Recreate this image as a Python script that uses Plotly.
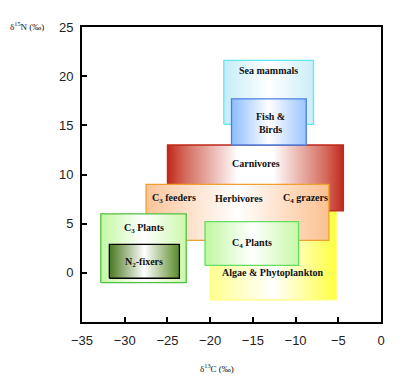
import plotly.graph_objects as go

# Boxes (data ranges in per-mil)
groups  = ["Algae & Phytoplankton", "Carnivores", "Herbivores", "C4 Plants",
           "Sea mammals", "Fish & Birds", "C3 Plants", "N2-fixers"]
x_min   = [-20.0, -25.0, -27.5, -20.6, -18.4, -17.5, -32.8, -31.8]
x_max   = [-5.2,  -4.4,  -6.1,  -9.65, -7.9,  -8.75, -22.8, -23.6]
y_min   = [-2.75,  6.3,   3.3,   0.75, 15.1,  13.0,  -1.0,  -0.55]
y_max   = [ 7.0,  13.0,   9.0,   5.2,  21.6,  17.7,   6.0,   2.9]

edge_l  = ["#ffff90", "#c0281a", "#fcc49a", "#c0f8a0", "#c4ecf8", "#8cbcff", "#c4f8a4", "#4a7820"]
edge_r  = ["#ffff40", "#c0281a", "#fcc090", "#c8f8a8", "#cceef8", "#9cc4ff", "#ccf8ac", "#5a8a28"]
border  = ["#ffff80", "#c0281a", "#f0a030", "#60e060", "#60e8f0", "#4a80e0", "#50c040", "#000000"]

label_text = ["Sea mammals", "Fish &<br>Birds", "Carnivores", "C<sub>3</sub> feeders",
              "Herbivores", "C<sub>4</sub> grazers", "C<sub>3</sub> Plants",
              "N<sub>2</sub>-fixers", "C<sub>4</sub> Plants", "Algae & Phytoplankton"]
label_x = [-13.16, -12.93, -14.69, -24.26, -16.64, -8.79, -27.77, -27.77, -15.08, -12.7]
label_y = [20.6, 15.2, 11.07, 7.56, 7.56, 7.56, 4.51, 1.1, 2.97, 0.03]

x_ticks = [-35, -30, -25, -20, -15, -10, -5, 0]
y_ticks = [0, 5, 10, 15, 20, 25]

fig = go.Figure()
for i, g in enumerate(groups):
    x0, x1, y0, y1 = x_min[i], x_max[i], y_min[i], y_max[i]
    if g == "Carnivores":
        cs = [[0, edge_l[i]], [0.1, "#d46a5c"], [0.4, "#ffffff"], [0.6, "#ffffff"],
              [0.9, "#d46a5c"], [1, edge_r[i]]]
    else:
        cs = [[0, edge_l[i]], [0.5, "#ffffff"], [1, edge_r[i]]]
    fig.add_trace(go.Scatter(
        x=[x0, x1, x1, x0, x0], y=[y0, y0, y1, y1, y0],
        mode="lines", fill="toself",
        fillgradient=dict(type="horizontal", colorscale=cs),
        line=dict(color=border[i], width=1.3),
        hoverinfo="skip", showlegend=False, name=g))

for t, x, y in zip(label_text, label_x, label_y):
    fig.add_annotation(x=x, y=y, text="<b>" + t + "</b>", showarrow=False,
                       font=dict(family="Liberation Serif", size=10, color="#111111"))

fig.add_annotation(xref="paper", yref="paper", x=-0.247, y=1.003, xanchor="left", yanchor="middle",
                   text="δ<sup>15</sup>N (‰)", showarrow=False,
                   font=dict(family="Liberation Serif", size=9, color="#111111"))
fig.add_annotation(xref="paper", yref="paper", x=0.45, y=-0.155, xanchor="center", yanchor="middle",
                   text="δ<sup>13</sup>C (‰)", showarrow=False,
                   font=dict(family="Liberation Serif", size=9, color="#111111"))

axis_common = dict(showgrid=False, zeroline=False, showline=True, linecolor="black", linewidth=2,
                   mirror=True, ticks="inside", ticklen=5, tickwidth=1.5, tickcolor="black",
                   tickfont=dict(family="Liberation Sans", size=13, color="#222222"))
fig.update_xaxes(range=[-35, 0], tickvals=x_ticks, ticklabelstandoff=5, **axis_common)
fig.update_yaxes(range=[-5, 25], tickvals=y_ticks, ticklabelstandoff=4, **axis_common)

# page body has an 8px margin, so the figure is 8px smaller and margins shifted
fig.update_layout(width=399, height=373, margin=dict(l=74, r=26, t=15, b=59),
                  paper_bgcolor="white", plot_bgcolor="white")
fig.write_html("out.html")
